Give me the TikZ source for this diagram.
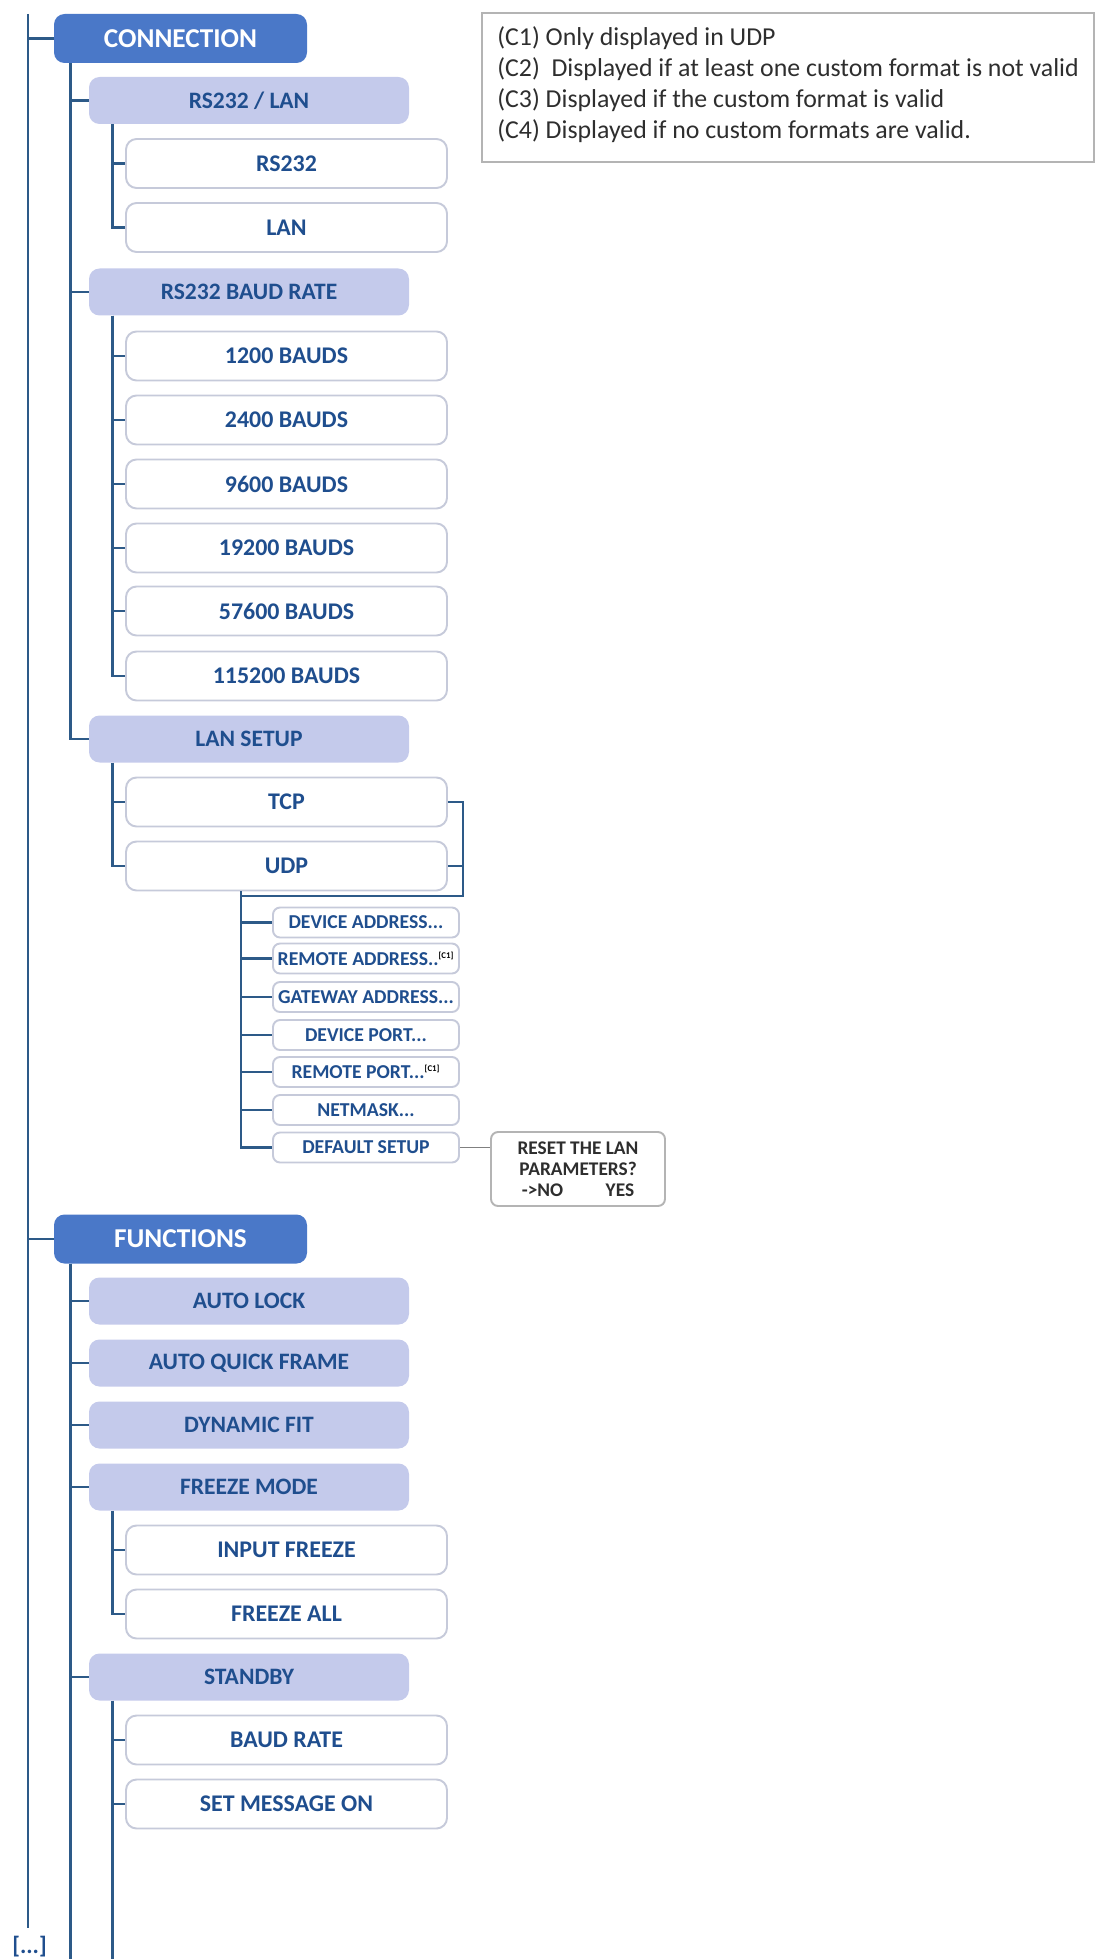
\documentclass[tikz,border=0pt]{standalone}
\usepackage{fontspec}
\setmainfont{Carlito}
\usepackage{xcolor}
\usepackage{tikz}
\usetikzlibrary{positioning, calc}
\definecolor{topblue}{HTML}{4A78C8}
\definecolor{sublav}{HTML}{C4CAEB}
\definecolor{txtblue}{HTML}{1F4E8E}
\definecolor{linkblue}{HTML}{2D5A88}
\definecolor{leafgray}{HTML}{C6CADA}
\definecolor{notegray}{HTML}{B4B4B4}
\definecolor{darktext}{HTML}{2E2E2E}

\newcommand{\cnote}{\textsuperscript{\fontsize{5}{5}\selectfont\color{black}[C1]}}

\begin{document}
\begin{tikzpicture}[
      every node/.style={font=\bfseries, text=txtblue},
      mainbox/.style={fill=topblue, text=white, rounded corners=6pt,
                      minimum width=5.06cm, minimum height=0.98cm,
                      font=\fontsize{15.5}{17}\selectfont\bfseries},
      subbox/.style={fill=sublav, rounded corners=6pt,
                     minimum width=6.4cm, minimum height=0.94cm,
                     font=\fontsize{13.4}{15}\selectfont\bfseries},
      leafbox/.style={fill=white, draw=leafgray, line width=1.1pt, rounded corners=6pt,
                      minimum width=6.42cm, minimum height=0.98cm,
                      font=\fontsize{13.6}{15}\selectfont\bfseries},
      parambox/.style={fill=white, draw=leafgray, line width=1.1pt, rounded corners=4pt,
                       minimum width=3.72cm, minimum height=0.6cm, inner sep=1pt,
                       font=\fontsize{11.2}{12}\selectfont\bfseries},
      resetbox/.style={fill=white, draw=notegray, line width=1.1pt, rounded corners=4pt,
                       minimum width=3.48cm, minimum height=1.48cm, align=center, text=darktext,
                       font=\fontsize{11}{11.8}\selectfont\bfseries},
      noteframe/.style={draw=notegray, line width=1.1pt, minimum width=12.24cm, minimum height=2.98cm},
      notetext/.style={text=darktext, align=left, inner sep=0pt,
                       font=\fontsize{14.7}{17.6}\selectfont},
      link/.style={draw=linkblue, line width=1.6pt},
      greylink/.style={draw=gray, line width=1.1pt},
    ]
    \useasboundingbox (0,0) rectangle (21.9,-39.18);

    % legend
    \node[noteframe, anchor=north west] (notebox) at (9.62,-0.25) {};
    \node[notetext, anchor=north west] (note) at ($(notebox.north west)+(0.32,-0.27)$)
      {(C1) Only displayed in UDP\\
       (C2) \ Displayed if at least one custom format is not valid\\
       (C3) Displayed if the custom format is valid\\
       (C4) Displayed if no custom formats are valid.};

    % connection menu
    \node[mainbox] (conn)   at (3.61,-0.77)  {CONNECTION};
    \node[subbox]  (rslan)  at (4.98,-2.01)  {RS232 / LAN};
    \node[leafbox] (rs)     at (5.73,-3.27)  {RS232};
    \node[leafbox] (lan)    at (5.73,-4.55)  {LAN};
    \node[subbox]  (baud)   at (4.98,-5.84)  {RS232 BAUD RATE};
    \node[leafbox] (b1200)  at (5.73,-7.12)  {1200 BAUDS};
    \node[leafbox] (b2400)  at (5.73,-8.40)  {2400 BAUDS};
    \node[leafbox] (b9600)  at (5.73,-9.68)  {9600 BAUDS};
    \node[leafbox] (b19200) at (5.73,-10.96) {19200 BAUDS};
    \node[leafbox] (b57600) at (5.73,-12.22) {57600 BAUDS};
    \node[leafbox] (b115200) at (5.73,-13.52) {115200 BAUDS};
    \node[subbox]  (lanset) at (4.98,-14.78) {LAN SETUP};
    \node[leafbox] (tcp)    at (5.73,-16.04) {TCP};
    \node[leafbox] (udp)    at (5.73,-17.32) {UDP};

    \node[parambox] (pdevad) at (7.32,-18.45) {DEVICE ADDRESS...};
    \node[parambox] (premad) at (7.32,-19.17) {REMOTE ADDRESS..\cnote};
    \node[parambox] (pgate)  at (7.32,-19.94) {GATEWAY ADDRESS...};
    \node[parambox] (pdevpt) at (7.32,-20.70) {DEVICE PORT...};
    \node[parambox] (prempt) at (7.32,-21.44) {REMOTE PORT...\cnote};
    \node[parambox] (pmask)  at (7.32,-22.20) {NETMASK...};
    \node[parambox] (pdef)   at (7.32,-22.95) {DEFAULT SETUP};
    \node[resetbox] (reset)  at (11.56,-23.38) {RESET THE LAN\\PARAMETERS?\\->NO\hspace{2.2em}YES};

    % functions menu
    \node[mainbox] (func)    at (3.61,-24.78) {FUNCTIONS};
    \node[subbox]  (alock)   at (4.98,-26.02) {AUTO LOCK};
    \node[subbox]  (aqframe) at (4.98,-27.26) {AUTO QUICK FRAME};
    \node[subbox]  (dynfit)  at (4.98,-28.50) {DYNAMIC FIT};
    \node[subbox]  (freeze)  at (4.98,-29.74) {FREEZE MODE};
    \node[leafbox] (fin)     at (5.73,-31.00) {INPUT FREEZE};
    \node[leafbox] (fall)    at (5.73,-32.28) {FREEZE ALL};
    \node[subbox]  (standby) at (4.98,-33.54) {STANDBY};
    \node[leafbox] (sbaud)   at (5.73,-34.80) {BAUD RATE};
    \node[leafbox] (smsg)    at (5.73,-36.08) {SET MESSAGE ON};

    \node (more) at (0.59,-38.94) {\fontsize{13.5}{14}\selectfont[...]};

    % trunks
    \coordinate (trunktop) at (0.56,-0.28);
    \coordinate (trunkend) at (0.56,-38.56);
    \coordinate (bottom)   at (0,-39.18);
    \draw[link] (trunktop) -- (trunkend);
    \draw[link] (conn.west -| trunktop) -- (conn.west);
    \draw[link] (func.west -| trunktop) -- (func.west);

    \draw[link] ([xshift=0.34cm]conn.south west) |- (rslan.west);
    \draw[link] ([xshift=0.34cm]conn.south west) |- (baud.west);
    \draw[link] ([xshift=0.34cm]conn.south west) |- (lanset.west);

    \draw[link] ([xshift=0.48cm]rslan.south west) |- (rs.west);
    \draw[link] ([xshift=0.48cm]rslan.south west) |- (lan.west);
    \draw[link] ([xshift=0.48cm]baud.south west) |- (b1200.west);
    \draw[link] ([xshift=0.48cm]baud.south west) |- (b2400.west);
    \draw[link] ([xshift=0.48cm]baud.south west) |- (b9600.west);
    \draw[link] ([xshift=0.48cm]baud.south west) |- (b19200.west);
    \draw[link] ([xshift=0.48cm]baud.south west) |- (b57600.west);
    \draw[link] ([xshift=0.48cm]baud.south west) |- (b115200.west);
    \draw[link] ([xshift=0.48cm]lanset.south west) |- (tcp.west);
    \draw[link] ([xshift=0.48cm]lanset.south west) |- (udp.west);

    % tcp/udp bracket and parameters
    \coordinate (ptrunk) at ($(udp.south west)+(2.32,0)$);
    \coordinate (brk) at ($(udp.east)+(0.3,-0.6)$);
    \draw[link] (tcp.east) -| (brk) -- (brk -| ptrunk);
    \draw[link] (udp.east) -- (udp.east -| brk);
    \draw[link] (ptrunk) |- (pdevad.west);
    \draw[link] (ptrunk) |- (premad.west);
    \draw[link] (ptrunk) |- (pgate.west);
    \draw[link] (ptrunk) |- (pdevpt.west);
    \draw[link] (ptrunk) |- (prempt.west);
    \draw[link] (ptrunk) |- (pmask.west);
    \draw[link] (ptrunk) |- (pdef.west);
    \draw[greylink] (pdef.east) -- (pdef.east -| reset.west);

    \draw[link] ([xshift=0.34cm]func.south west) |- (alock.west);
    \draw[link] ([xshift=0.34cm]func.south west) |- (aqframe.west);
    \draw[link] ([xshift=0.34cm]func.south west) |- (dynfit.west);
    \draw[link] ([xshift=0.34cm]func.south west) |- (freeze.west);
    \draw[link] ([xshift=0.34cm]func.south west) |- (standby.west);
    \draw[link] ([xshift=0.34cm]func.south west) coordinate (f2) -- (f2 |- bottom);

    \draw[link] ([xshift=0.48cm]freeze.south west) |- (fin.west);
    \draw[link] ([xshift=0.48cm]freeze.south west) |- (fall.west);
    \draw[link] ([xshift=0.48cm]standby.south west) |- (sbaud.west);
    \draw[link] ([xshift=0.48cm]standby.south west) |- (smsg.west);
    \draw[link] ([xshift=0.48cm]standby.south west) coordinate (s3) -- (s3 |- bottom);
\end{tikzpicture}
\end{document}
